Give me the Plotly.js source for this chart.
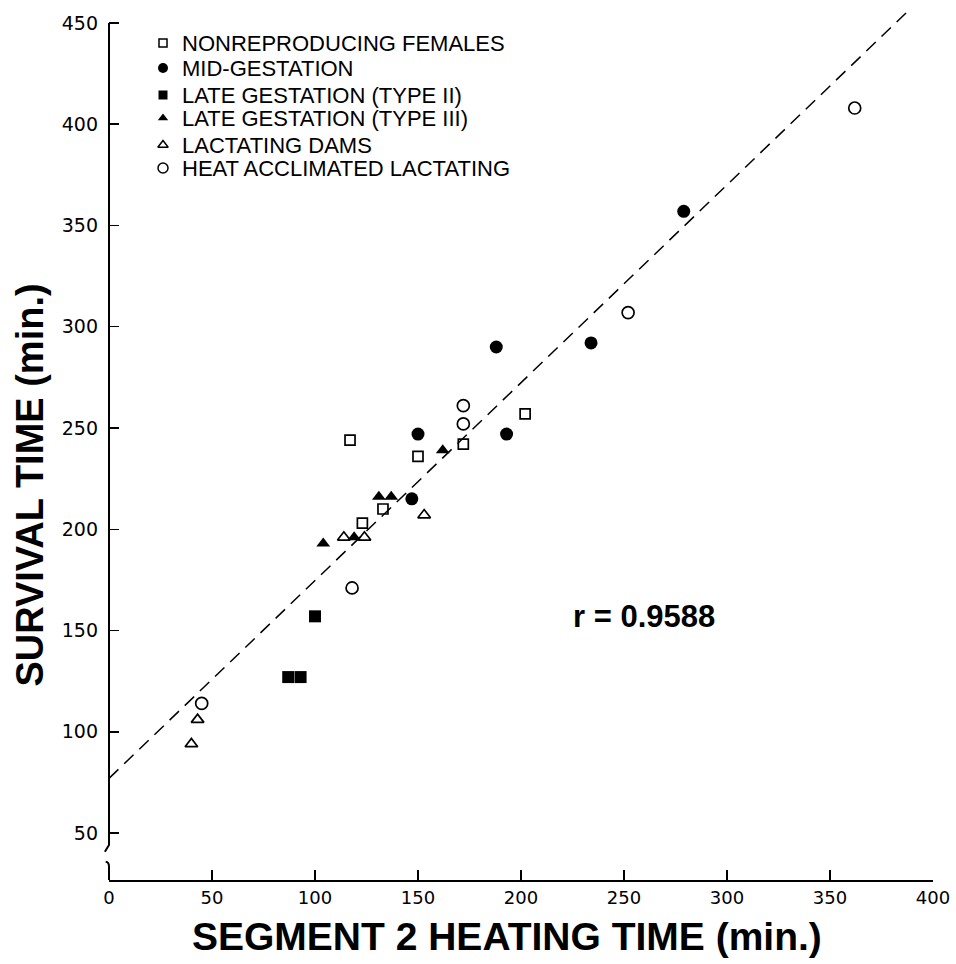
<!DOCTYPE html>
<html>
<head>
<meta charset="utf-8">
<script src="https://cdn.plot.ly/plotly-3.0.1.min.js"></script>
<style>html,body{margin:0;padding:0;background:#fff;}#chart{width:956px;height:964px;}</style>
</head>
<body>
<div id="chart"></div>
<script>
// Data
const nonreproX = [117, 150, 172, 202, 133, 123];
const nonreproY = [244, 236, 242, 257, 210, 203];
const midGestX = [279, 188, 234, 150, 193, 147];
const midGestY = [357, 290, 292, 247, 247, 215];
const lateIIX = [100, 87, 93];
const lateIIY = [157, 127, 127];
const lateIIIX = [104, 119, 131, 137, 162];
const lateIIIY = [193, 196, 216, 216, 239];
const lactX = [114, 124, 153, 43, 40];
const lactY = [196, 196, 207, 106, 94];
const heatX = [362, 252, 172, 172, 118, 45];
const heatY = [408, 307, 261, 252, 171, 114];
const fitX = [0, 388];
const fitY = [77, 456];
const xTicks = [0, 50, 100, 150, 200, 250, 300, 350, 400];
const yTicks = [50, 100, 150, 200, 250, 300, 350, 400, 450];
const seriesNames = ['NONREPRODUCING FEMALES', 'MID-GESTATION', 'LATE GESTATION (TYPE II)',
  'LATE GESTATION (TYPE III)', 'LACTATING DAMS', 'HEAT ACCLIMATED LACTATING'];
const rText = 'r = 0.9588';
const xTitle = 'SEGMENT 2 HEATING TIME (min.)';
const yTitle = 'SURVIVAL TIME (min.)';

const FONT = 'Liberation Sans, Arial, sans-serif';

// marker styles per series (plot size, legend size)
const styles = [
  {symbol: 'square-open', size: 10, lsize: 8, open: true},
  {symbol: 'circle', size: 13, lsize: 10, open: false},
  {symbol: 'square', size: 12, lsize: 9, open: false},
  {symbol: 'triangle-up', size: 12, lsize: 9, open: false},
  {symbol: 'triangle-up-open', size: 11, lsize: 9, open: true},
  {symbol: 'circle-open', size: 12, lsize: 10, open: true}
];
const seriesX = [nonreproX, midGestX, lateIIX, lateIIIX, lactX, heatX];
const seriesY = [nonreproY, midGestY, lateIIY, lateIIIY, lactY, heatY];

// legend layout (pixel-coordinate overlay axes)
const legendMarkerX = 163, legendTextX = 180;
const legendRowY = [43, 68, 95, 118, 145, 168];

const traces = [
  {x: fitX, y: fitY, mode: 'lines', showlegend: false, hoverinfo: 'skip',
   line: {color: '#000', width: 1.5, dash: '13px,8px'}}
];
seriesX.forEach((xs, i) => {
  const s = styles[i];
  traces.push({x: xs, y: seriesY[i], name: seriesNames[i], mode: 'markers', showlegend: false,
    marker: {symbol: s.symbol, size: s.size, color: '#000', line: {width: s.open ? 1.7 : 0, color: '#000'}}});
});
// legend keys
seriesNames.forEach((n, i) => {
  const s = styles[i];
  traces.push({x: [legendMarkerX], y: [legendRowY[i]], xaxis: 'x2', yaxis: 'y2', mode: 'markers',
    showlegend: false, hoverinfo: 'skip',
    marker: {symbol: s.symbol, size: s.lsize, color: '#000', line: {width: s.open ? 1.5 : 0, color: '#000'}}});
});

const annotations = seriesNames.map((n, i) => ({
  x: legendTextX, y: legendRowY[i], xref: 'x2', yref: 'y2', text: n, showarrow: false,
  xanchor: 'left', yanchor: 'middle', font: {size: 22, family: FONT, color: '#000'}
}));
annotations.push({x: 259.5, y: 157, xref: 'x', yref: 'y', text: rText, showarrow: false,
  font: {size: 31, family: FONT, color: '#000', weight: 'bold'}});
annotations.push({x: 0.483, y: -0.0655, xref: 'paper', yref: 'paper', text: xTitle, showarrow: false,
  xanchor: 'center', yanchor: 'middle', font: {size: 39, family: FONT, color: '#000', weight: 'bold'}});
annotations.push({x: -0.097, y: 0.4534, xref: 'paper', yref: 'paper', text: yTitle, showarrow: false,
  textangle: -90, xanchor: 'center', yanchor: 'middle',
  font: {size: 38, family: FONT, color: '#000', weight: 'bold'}});

const layout = {
  width: 956, height: 964,
  margin: {l: 109, r: 23, t: 10, b: 84},
  paper_bgcolor: '#fff', plot_bgcolor: '#fff',
  font: {family: FONT, color: '#000'},
  showlegend: false,
  xaxis: {
    range: [0, 400], tickvals: xTicks, ticktext: xTicks.map(String),
    ticks: 'inside', ticklen: 10, tickwidth: 1.5, tickcolor: '#000',
    showline: true, linecolor: '#000', linewidth: 2, showgrid: false, zeroline: false,
    tickfont: {size: 18, family: 'DejaVu Sans, sans-serif', color: '#000'},
    fixedrange: true
  },
  yaxis: {
    range: [26.8, 456.4], tickvals: yTicks, ticktext: yTicks.map(String),
    ticks: 'inside', ticklen: 10, tickwidth: 1.5, tickcolor: '#000',
    showline: false, showgrid: false, zeroline: false,
    ticklabelstandoff: 10,
    tickfont: {size: 19, family: 'DejaVu Sans, sans-serif', color: '#000'},
    fixedrange: true
  },
  xaxis2: {overlaying: 'x', anchor: 'y2', range: [109, 933], visible: false, fixedrange: true},
  yaxis2: {overlaying: 'y', anchor: 'x2', range: [880, 10], visible: false, fixedrange: true},
  shapes: [
    {type: 'path', xref: 'paper', yref: 'y', path: 'M 0 450 L 0 44.1 L -0.005 40.8',
     line: {color: '#000', width: 2}},
    {type: 'path', xref: 'paper', yref: 'y', path: 'M -0.004 35.8 Q 0 35.6 0 33.4 L 0 26.8',
     line: {color: '#000', width: 2}}
  ],
  annotations: annotations
};

Plotly.newPlot('chart', traces, layout, {displayModeBar: false, staticPlot: true});
</script>
</body>
</html>
